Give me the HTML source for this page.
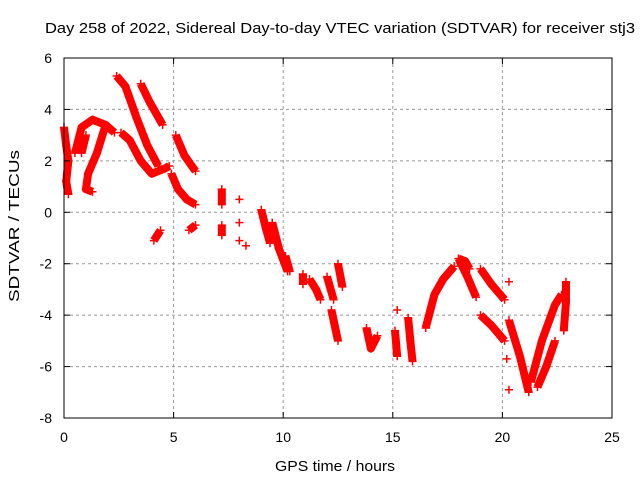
<!DOCTYPE html>
<html><head><meta charset="utf-8"><style>
body{margin:0;background:#fff}
svg text{font-family:"Liberation Sans",sans-serif;fill:#000}
</style></head><body>
<svg id="c" width="640" height="480" xmlns="http://www.w3.org/2000/svg">
<text x="340" y="33" font-size="15" text-anchor="middle" textLength="590" lengthAdjust="spacingAndGlyphs">Day 258 of 2022, Sidereal Day-to-day VTEC variation (SDTVAR) for receiver stj3</text>
<text x="335" y="471" font-size="15" text-anchor="middle" textLength="120" lengthAdjust="spacingAndGlyphs">GPS time / hours</text>
<text x="0" y="0" font-size="15" text-anchor="middle" textLength="152" lengthAdjust="spacingAndGlyphs" transform="translate(19,226) rotate(-90)">SDTVAR / TECUs</text>
<g id="grid"></g><g id="marks"></g>
<rect x="64" y="58" width="548" height="360" fill="none" stroke="#000"/>
<g id="ticks"></g>
</svg>
<script>
const xTicks=[0,5,10,15,20,25];
const yTicks=[-8,-6,-4,-2,0,2,4,6];
const tracks=[
[[2.4,5.3],[2.8,4.9],[3.3,3.7],[3.8,2.6],[4.3,1.8]],
[[3.5,5.0],[3.9,4.3],[4.5,3.4]],
[[2.6,3.1],[3.0,2.8],[3.5,2.0],[4.0,1.5],[4.6,1.7],[4.8,1.8]],
[[5.1,3.0],[5.5,2.2],[6.0,1.6]],
[[4.9,1.5],[5.2,0.9],[5.6,0.5],[6.0,0.3]],
[[4.1,-1.1],[4.4,-0.7]],
[[5.7,-0.7],[6.0,-0.5]],
[[0.0,3.3],[0.1,2.6],[0.2,2.0],[0.1,1.2],[0.2,0.7]],
[[0.5,2.3],[0.8,3.3],[1.3,3.6],[1.9,3.4],[1.5,2.3],[1.1,1.5],[1.0,0.9],[1.3,0.8]],
[[0.8,2.3],[1.0,3.0]],
[[1.9,3.4],[2.3,3.1]],
[[7.2,0.9],[7.2,0.3]],[[7.2,-0.5],[7.2,-0.9]],
[[8.0,0.5]],[[8.0,-0.4]],[[8.0,-1.1]],[[8.3,-1.3]],
[[9.0,0.1],[9.2,-0.6],[9.4,-1.2]],
[[9.5,-0.4],[9.8,-1.4],[10.2,-2.3]],
[[10.1,-1.7],[10.3,-2.3]],
[[10.9,-2.4],[10.9,-2.8]],
[[11.2,-2.6],[11.5,-3.0],[11.7,-3.4]],
[[12.0,-2.5],[12.3,-3.4]],
[[12.2,-3.8],[12.5,-5.0]],
[[12.5,-2.0],[12.7,-2.9]],
[[13.8,-4.5],[14.0,-5.3],[14.3,-4.8]],
[[15.1,-4.6],[15.2,-5.6]],
[[15.7,-4.1],[15.8,-5.0],[15.9,-5.8]],
[[16.5,-4.5],[16.9,-3.2],[17.3,-2.6],[17.8,-2.1]],
[[18.0,-1.8],[18.3,-1.9],[18.5,-2.2]],
[[18.0,-1.8],[18.4,-2.5],[18.8,-3.3]],
[[19.0,-2.2],[19.5,-2.8],[20.1,-3.4]],
[[19.0,-4.0],[19.5,-4.4],[20.1,-5.0]],
[[20.3,-2.7]],
[[20.3,-4.2],[20.8,-5.6],[21.2,-7.0]],
[[21.3,-6.6],[21.8,-5.0],[22.4,-3.6],[22.7,-3.2]],
[[21.6,-6.8],[22.0,-6.0],[22.4,-5.0]],
[[22.8,-4.6],[22.9,-3.5],[22.9,-2.7]],
[[20.2,-5.7]],[[20.3,-6.9]],[[15.2,-3.8]]
];
const sx=t=>64+t*548/25, sy=v=>58+(6-v)*360/14;
const NS="http://www.w3.org/2000/svg";
const grid=document.getElementById('grid'),tk=document.getElementById('ticks'),mk=document.getElementById('marks');
function mkEl(tag,attrs,parent){const e=document.createElementNS(NS,tag);for(const k in attrs)e.setAttribute(k,attrs[k]);parent.appendChild(e);return e;}
xTicks.forEach(t=>{const x=sx(t);
 if(t>0&&t<25){const g=mkEl('line',{x1:x,x2:x,y1:58,y2:418,stroke:'#999','stroke-dasharray':'3,3'},grid);
 
 }
 mkEl('line',{x1:x,x2:x,y1:418,y2:412,stroke:'#000'},tk);mkEl('line',{x1:x,x2:x,y1:58,y2:64,stroke:'#000'},tk);
 const l=mkEl('text',{x:x,y:442,'font-size':14,'text-anchor':'middle'},tk);l.textContent=t;
 
 });
yTicks.forEach(v=>{const y=sy(v);
 if(v>-8&&v<6){const g=mkEl('line',{x1:64,x2:612,y1:y,y2:y,stroke:'#999','stroke-dasharray':'3,3'},grid);
 
 }
 mkEl('line',{x1:64,x2:70,y1:y,y2:y,stroke:'#000'},tk);mkEl('line',{x1:612,x2:606,y1:y,y2:y,stroke:'#000'},tk);
 const l=mkEl('text',{x:52,y:y+5,'font-size':14,'text-anchor':'end'},tk);l.textContent=v;
 
 });
tracks.forEach(tr=>{
 const g=mkEl('g',{},mk);
 
 
 if(tr.length>1){mkEl('polyline',{points:tr.map(p=>sx(p[0])+','+sy(p[1])).join(' '),fill:'none',stroke:'#f00','stroke-width':8,'stroke-linejoin':'round'},g);}
 tr.forEach(p=>{const x=sx(p[0]),y=sy(p[1]);
  const m=mkEl('path',{d:`M${x-4},${y}h8M${x},${y-4}v8`,stroke:'#f00','stroke-width':1.5},g);
  
  });
});
</script>
</body></html>
